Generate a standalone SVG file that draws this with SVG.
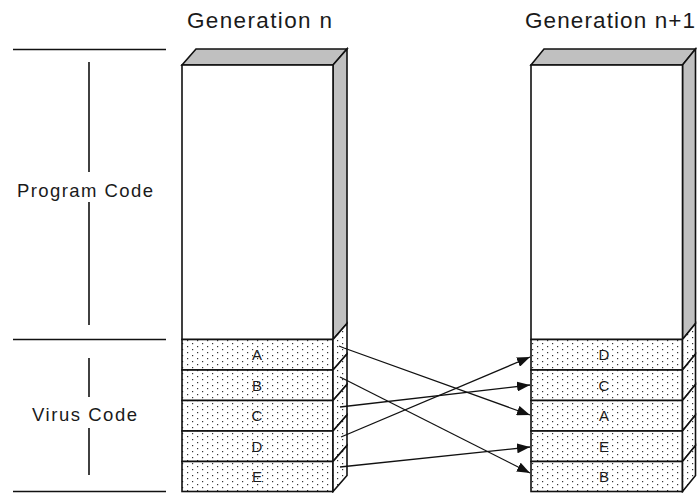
<svg xmlns="http://www.w3.org/2000/svg" width="699" height="493" viewBox="0 0 699 493">
  <style>
    .edge { stroke: #111; stroke-width: 1.6; stroke-linejoin: miter; }
    .face { fill: #fff; }
    .shade { fill: #c0c0c0; }
    .dots { fill: url(#dotfill); }
    .lbl { font-family: "Liberation Sans", Arial, sans-serif; fill: #1a1a1a; }
    .head { font-size: 22.5px; }
    .side { font-size: 18.5px; }
    .cell { font-size: 15px; text-anchor: middle; }
    .rule { stroke: #111; stroke-width: 1.6; fill: none; }
    .conn { stroke: #111; stroke-width: 1.3; fill: none; marker-end: url(#ah); }
  </style>
  <defs>
    <pattern id="dotfill" width="10" height="6" patternUnits="userSpaceOnUse">
      <rect width="10" height="6" fill="#fff"/>
      <rect x="2" y="1" width="1.2" height="1.2" fill="#333"/>
      <rect x="7" y="4" width="1.2" height="1.2" fill="#333"/>
    </pattern>
    <marker id="ah" markerWidth="13" markerHeight="10" refX="13" refY="5" orient="auto" markerUnits="userSpaceOnUse">
      <path d="M0,0 L13,5 L0,10 z" fill="#111"/>
    </marker>
  </defs>

  <rect width="699" height="493" fill="#fff"/>

  <!-- headings -->
  <text class="lbl head" x="187" y="28" textLength="145" lengthAdjust="spacing">Generation n</text>
  <text class="lbl head" x="525" y="28" textLength="170" lengthAdjust="spacing">Generation n+1</text>

  <!-- dimension rules on the left -->
  <g id="scale">
    <line class="rule" x1="13" y1="49.5" x2="166" y2="49.5"/>
    <line class="rule" x1="89" y1="62" x2="89" y2="172"/>
    <text class="lbl side" x="17" y="197" textLength="136" lengthAdjust="spacing">Program Code</text>
    <line class="rule" x1="89" y1="202" x2="89" y2="325"/>
    <line class="rule" x1="13" y1="339.5" x2="166" y2="339.5"/>
    <line class="rule" x1="89" y1="358" x2="89" y2="397"/>
    <text class="lbl side" x="32" y="421" textLength="105" lengthAdjust="spacing">Virus Code</text>
    <line class="rule" x1="89" y1="428" x2="89" y2="475"/>
    <line class="rule" x1="13" y1="491.5" x2="166" y2="491.5"/>
  </g>

  <!-- generation n -->
  <g id="gen-n">
    <polygon class="shade edge" points="182,65 196,49 347,49 333,65"/>
    <polygon class="shade edge" points="333,65 347,49 347,323.5 333,339.5"/>
    <rect class="face edge" x="182" y="65" width="151" height="274.5"/>
    <g id="gen-n-A">
      <rect class="dots edge" x="182" y="339.5" width="151" height="30.5"/>
      <polygon class="dots edge" points="333,339.5 347,323.5 347,354 333,370"/>
      <text class="lbl cell" x="257" y="360">A</text>
    </g>
    <g id="gen-n-B">
      <rect class="dots edge" x="182" y="370" width="151" height="30.5"/>
      <polygon class="dots edge" points="333,370 347,354 347,384.5 333,400.5"/>
      <text class="lbl cell" x="257" y="390.5">B</text>
    </g>
    <g id="gen-n-C">
      <rect class="dots edge" x="182" y="400.5" width="151" height="30.5"/>
      <polygon class="dots edge" points="333,400.5 347,384.5 347,415 333,431"/>
      <text class="lbl cell" x="257" y="421">C</text>
    </g>
    <g id="gen-n-D">
      <rect class="dots edge" x="182" y="431" width="151" height="30.5"/>
      <polygon class="dots edge" points="333,431 347,415 347,445.5 333,461.5"/>
      <text class="lbl cell" x="257" y="451.5">D</text>
    </g>
    <g id="gen-n-E">
      <rect class="dots edge" x="182" y="461.5" width="151" height="30"/>
      <polygon class="dots edge" points="333,461.5 347,445.5 347,475.5 333,491.5"/>
      <text class="lbl cell" x="257" y="482">E</text>
    </g>
  </g>

  <!-- generation n+1 -->
  <g id="gen-n1">
    <polygon class="shade edge" points="531,65 544,49 695.5,49 682.5,65"/>
    <polygon class="shade edge" points="682.5,65 695.5,49 695.5,323.5 682.5,339.5"/>
    <rect class="face edge" x="531" y="65" width="151.5" height="274.5"/>
    <g id="gen-n1-D">
      <rect class="dots edge" x="531" y="339.5" width="151.5" height="30.5"/>
      <polygon class="dots edge" points="682.5,339.5 695.5,323.5 695.5,354 682.5,370"/>
      <text class="lbl cell" x="604" y="360">D</text>
    </g>
    <g id="gen-n1-C">
      <rect class="dots edge" x="531" y="370" width="151.5" height="30.5"/>
      <polygon class="dots edge" points="682.5,370 695.5,354 695.5,384.5 682.5,400.5"/>
      <text class="lbl cell" x="604" y="390.5">C</text>
    </g>
    <g id="gen-n1-A">
      <rect class="dots edge" x="531" y="400.5" width="151.5" height="30.5"/>
      <polygon class="dots edge" points="682.5,400.5 695.5,384.5 695.5,415 682.5,431"/>
      <text class="lbl cell" x="604" y="421">A</text>
    </g>
    <g id="gen-n1-E">
      <rect class="dots edge" x="531" y="431" width="151.5" height="30.5"/>
      <polygon class="dots edge" points="682.5,431 695.5,415 695.5,445.5 682.5,461.5"/>
      <text class="lbl cell" x="604" y="451.5">E</text>
    </g>
    <g id="gen-n1-B">
      <rect class="dots edge" x="531" y="461.5" width="151.5" height="30"/>
      <polygon class="dots edge" points="682.5,461.5 695.5,445.5 695.5,475.5 682.5,491.5"/>
      <text class="lbl cell" x="604" y="482">B</text>
    </g>
  </g>

  <!-- block moves between generations -->
  <g id="connectors">
    <path class="conn" d="M339,346 L344,348 L530,415"/>
    <path class="conn" d="M340,377 L530,473"/>
    <path class="conn" d="M340,407 L530,385"/>
    <path class="conn" d="M341,437 L530,357"/>
    <path class="conn" d="M340,467 L530,447"/>
  </g>
</svg>
